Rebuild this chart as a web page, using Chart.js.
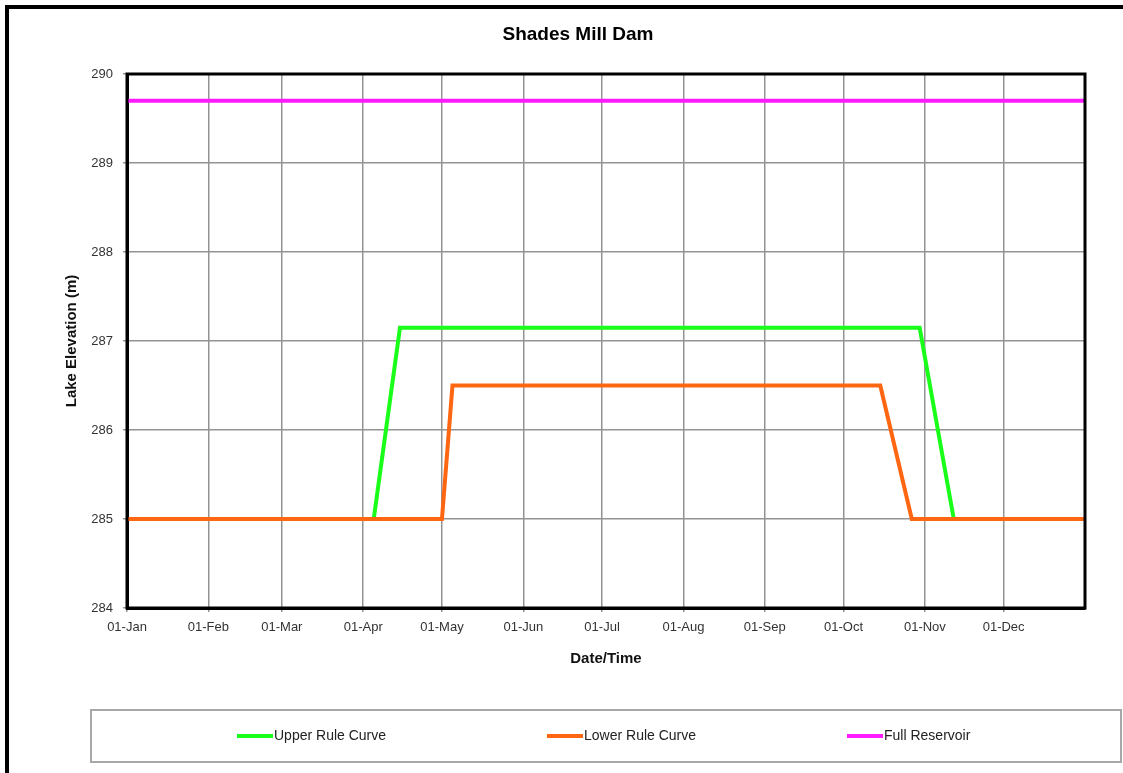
<!DOCTYPE html>
<html>
<head>
<meta charset="utf-8">
<script src="https://cdn.jsdelivr.net/npm/chart.js@4.4.1/dist/chart.umd.min.js"></script>
<style>
  html, body { margin: 0; padding: 0; background: #ffffff; }
  #wrap { width: 1123px; height: 773px; position: relative; }
</style>
</head>
<body>
<div id="wrap"><canvas id="c" width="1123" height="773"></canvas></div>
<script>
// ---- Data (day of year, 0 = 01-Jan) ----
const chartTitle = 'Shades Mill Dam';
const xTitle = 'Date/Time';
const yTitle = 'Lake Elevation (m)';

const monthTickDays = [0, 31, 59, 90, 120, 151, 181, 212, 243, 273, 304, 334];
const monthTickLabels = ['01-Jan', '01-Feb', '01-Mar', '01-Apr', '01-May', '01-Jun',
                         '01-Jul', '01-Aug', '01-Sep', '01-Oct', '01-Nov', '01-Dec'];

const upperDays   = [0, 94, 104, 302, 315, 365];
const upperLevels = [285, 285, 287.15, 287.15, 285, 285];

const lowerDays   = [0, 120, 124, 287, 299, 365];
const lowerLevels = [285, 285, 286.5, 286.5, 285, 285];

const fullDays   = [0, 365];
const fullLevels = [289.7, 289.7];

const seriesNames = ['Upper Rule Curve', 'Lower Rule Curve', 'Full Reservoir'];
const yMin = 284, yMax = 290, yStep = 1;

function pts(xs, ys) { return xs.map((x, i) => ({ x: x, y: ys[i] })); }

const FONT = '"Liberation Sans", Arial, sans-serif';

const framePlugin = {
  id: 'framePlugin',
  beforeDraw(chart) {
    const ctx = chart.ctx;
    ctx.save();
    ctx.fillStyle = '#ffffff';
    ctx.fillRect(0, 0, chart.width, chart.height);
    // outer page frame (top and left)
    ctx.fillStyle = '#000000';
    ctx.fillRect(5, 5, chart.width - 5, 4);
    ctx.fillRect(5, 5, 4, chart.height - 5);
    // title
    ctx.font = 'bold 19px ' + FONT;
    ctx.fillStyle = '#000000';
    ctx.textAlign = 'center';
    ctx.textBaseline = 'middle';
    ctx.fillText(chartTitle, 578, 35);
    ctx.restore();
  },
  afterDraw(chart) {
    const ctx = chart.ctx;
    const a = chart.chartArea;
    ctx.save();
    // plot frame
    ctx.strokeStyle = '#000000';
    ctx.lineWidth = 3;
    ctx.strokeRect(a.left, a.top, a.right - a.left, a.bottom - a.top);
    // legend box
    ctx.strokeStyle = '#a8a8a8';
    ctx.lineWidth = 2;
    ctx.strokeRect(91, 710, 1030, 52);
    const starts = [237, 547, 847];
    ctx.font = '14px ' + FONT;
    ctx.textAlign = 'left';
    ctx.textBaseline = 'middle';
    chart.data.datasets.forEach((ds, i) => {
      const x = starts[i], y = 736;
      ctx.strokeStyle = ds.borderColor;
      ctx.lineWidth = 4;
      ctx.beginPath();
      ctx.moveTo(x, y);
      ctx.lineTo(x + 36, y);
      ctx.stroke();
      ctx.fillStyle = '#222222';
      ctx.fillText(ds.label, x + 37, y);
    });
    ctx.restore();
  }
};

new Chart(document.getElementById('c'), {
  type: 'line',
  data: {
    datasets: [
      { label: seriesNames[0], data: pts(upperDays, upperLevels), borderColor: '#1aff1a', borderWidth: 4, order: 2 },
      { label: seriesNames[1], data: pts(lowerDays, lowerLevels), borderColor: '#ff6612', borderWidth: 4, order: 1 },
      { label: seriesNames[2], data: pts(fullDays, fullLevels), borderColor: '#ff1aff', borderWidth: 4, order: 0 }
    ]
  },
  options: {
    responsive: false,
    animation: false,
    devicePixelRatio: 1,
    elements: { point: { radius: 0, hoverRadius: 0 }, line: { tension: 0 } },
    layout: { padding: { top: 74, left: 0, right: 38, bottom: 105 } },
    plugins: {
      legend: { display: false },
      title: { display: false },
      tooltip: { enabled: false }
    },
    scales: {
      x: {
        type: 'linear',
        min: 0,
        max: 365,
        afterBuildTicks(scale) {
          scale.ticks = monthTickDays.map(v => ({ value: v }));
        },
        afterFit(scale) { scale.height = 60; },
        ticks: {
          autoSkip: false,
          maxRotation: 0,
          padding: 8,
          color: '#333333',
          font: { family: FONT, size: 13 },
          callback(value) {
            const i = monthTickDays.indexOf(value);
            return i >= 0 ? monthTickLabels[i] : '';
          }
        },
        grid: { color: '#939393', lineWidth: 1.5, drawTicks: true, tickLength: 4, tickColor: '#939393' },
        border: { display: true, color: '#000000', width: 3 },
        title: {
          display: true,
          text: xTitle,
          color: '#111111',
          font: { family: FONT, size: 15, weight: 'bold' },
          padding: { top: 4, bottom: 0 }
        }
      },
      y: {
        min: yMin,
        max: yMax,
        afterFit(scale) { scale.width = 127; },
        ticks: {
          stepSize: yStep,
          padding: 10,
          color: '#333333',
          font: { family: FONT, size: 13 }
        },
        grid: { color: '#939393', lineWidth: 1.5, drawTicks: true, tickLength: 4, tickColor: '#939393' },
        border: { display: true, color: '#000000', width: 3 },
        title: {
          display: true,
          text: yTitle,
          color: '#111111',
          font: { family: FONT, size: 15, weight: 'bold' },
          padding: { top: 63, bottom: 0 }
        }
      }
    }
  },
  plugins: [framePlugin]
});
</script>
</body>
</html>
